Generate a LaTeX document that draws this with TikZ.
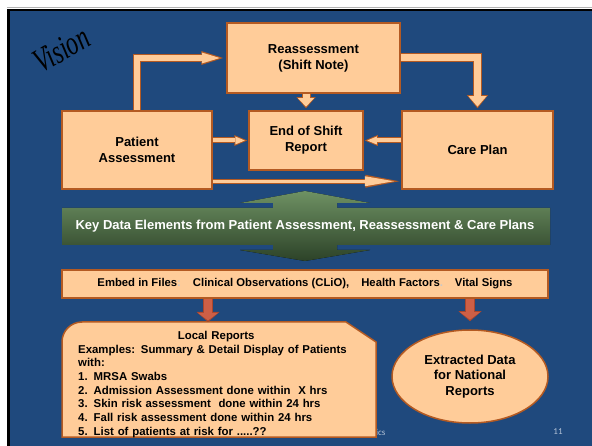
\documentclass[tikz,border=0pt]{standalone}
\usepackage{fontspec}
\setmainfont{Liberation Sans}
\newfontfamily\visionfont{Liberation Serif}
\newfontfamily\footfont{Carlito}
\usetikzlibrary{arrows.meta,shapes.geometric,calc}

\definecolor{slideblue}{HTML}{1F497D}
\definecolor{peach}{HTML}{FFCC99}
\definecolor{edge}{HTML}{B45A22}
\definecolor{redarrow}{HTML}{CD5F46}
\definecolor{rededge}{HTML}{A9462D}
\definecolor{greenlight}{HTML}{6E9163}
\definecolor{greendark}{HTML}{2C4228}
\definecolor{footgrey}{HTML}{B4C3D7}
\definecolor{faint}{HTML}{C8C8C8}

\tikzset{
  box/.style={draw=edge, fill=peach, line width=1.5pt, inner sep=0pt, align=center,
    font=\fontsize{13}{15.8}\selectfont\bfseries, text=black},
  boxline/.style={draw=edge, fill=peach, line width=1.5pt},
  listtext/.style={text width=276pt, align=left, inner sep=0pt, text=black,
    font=\fontsize{11.4}{13.7}\selectfont\bfseries},
  keytext/.style={text=white, font=\fontsize{13}{15}\selectfont\bfseries},
  foot/.style={text=footgrey, font=\footfont\fontsize{9}{10}\selectfont},
  flowout/.style n args={3}{draw=edge, line width=#1, line join=miter, shorten >=2pt,
    -{Triangle[length=#2, width=#3, line width=0pt]}},
  flowin/.style n args={3}{draw=peach, line width=#1, line join=miter, shorten >=3.6pt,
    -{Triangle[length=#2, width=#3, line width=0pt]}},
}

\begin{document}
\begin{tikzpicture}[x=1pt, y=-1pt]
  \useasboundingbox (0,0) rectangle (592,446);
  % slide background
  \fill[white] (0,0) rectangle (592,446);
  \draw[gray!60, line width=1pt] (7,8) -- (592,8);
  \fill[black] (7,9) rectangle (592,446);
  \fill[slideblue] (10,11) rectangle (592,446);

  \begin{scope}[shift={(67,59)}]
    \node[font=\visionfont\itshape\fontsize{34}{34}\selectfont, anchor=base,
      rotate=30, xscale=0.7, transform shape] (vision) at (0,0) {Vision};
  \end{scope}

  % boxes
  \node[box, minimum width=173pt, minimum height=70pt] (re) at (313.5,58) {Reassessment\\(Shift Note)};
  \node[box, minimum width=150pt, minimum height=78pt] (pa) at (137,150) {Patient\\Assessment};
  \node[box, minimum width=114pt, minimum height=59pt] (es) at (306,140.5) {End of Shift\\Report};
  \node[box, minimum width=151pt, minimum height=78pt] (cp) at (477.5,150) {Care Plan};

  % connectors between the boxes
  \draw[flowout={8pt}{22pt}{14pt}, shorten >=3pt] (pa.north) |- (re.west);
  \draw[flowin={6pt}{18pt}{11pt}, shorten >=6.5pt] (pa.north) |- (re.west);
  \draw[flowout={9pt}{13pt}{21pt}] (re.east) -| (cp.north);
  \draw[flowin={7pt}{10.4pt}{18pt}] (re.east) -| (cp.north);
  \draw[flowout={9pt}{11pt}{19pt}] (re.south -| es.north) -- (es.north);
  \draw[flowin={7pt}{8.4pt}{16pt}] (re.south -| es.north) -- (es.north);
  \draw[flowout={6pt}{13pt}{11pt}, shorten >=1pt] (pa.east |- es.west) -- (es.west);
  \draw[flowin={4pt}{9.5pt}{8pt}, shorten >=3.5pt] (pa.east |- es.west) -- (es.west);
  \draw[flowout={6pt}{13pt}{11pt}, shorten >=1pt] (cp.west |- es.east) -- (es.east);
  \draw[flowin={4pt}{9.5pt}{8pt}, shorten >=3.5pt] (cp.west |- es.east) -- (es.east);
  \coordinate (pa low) at ($(pa.south east)+(0,-8.5)$);
  \draw[flowout={5pt}{34pt}{13pt}] (pa low) -- (pa low -| cp.west);
  \draw[flowin={3pt}{29pt}{10pt}, shorten >=7.3pt] (pa low) -- (pa low -| cp.west);

  % key data band
  \fill[top color=greenlight, bottom color=greendark]
    (62,208) -- (273,208) -- (273,203) -- (240,203) -- (305,191) -- (370,203)
    -- (337,203) -- (337,208) -- (550,208) -- (550,245) -- (337,245) -- (337,250)
    -- (370,250) -- (305,261) -- (240,250) -- (273,250) -- (273,245) -- (62,245) -- cycle;
  \node[keytext] (kd) at (305,226.5) {Key Data Elements from Patient Assessment, Reassessment \& Care Plans};

  \node[box, minimum width=486pt, minimum height=28pt, font=\fontsize{11.3}{13}\selectfont\bfseries] (eb) at (305,284)
    {Embed in Files\textcolor{faint}{:}\hspace{12pt}Clinical Observations (CLiO),\hspace{12pt}Health Factors\textcolor{faint}{.}\hspace{12pt}Vital Signs};

  % reports
  \node[foot, anchor=east] (ft) at (389,432) {tics};
  \node[foot] (pg) at (558,432) {11};
  \draw[boxline] (62,342) arc[start angle=180, end angle=90, radius=20pt]
    -- (346,322) -- (376,342) -- (376,437) -- (62,437) -- cycle;
  \node[listtext, anchor=north west] (lr) at (78,331)
    {{\centering Local Reports\par}Examples: Summary \& Detail Display of Patients\\with:\\
     1.\hspace{6pt}MRSA Swabs\\
     2.\hspace{6pt}Admission Assessment done within\ \ X hrs\\
     3.\hspace{6pt}Skin risk assessment\ \ done within 24 hrs\\
     4.\hspace{6pt}Fall risk assessment done within 24 hrs\\
     5.\hspace{6pt}List of patients at risk for .....??};
  \node[box, ellipse, minimum width=156pt, minimum height=93pt] (nd) at (470,376.5) {Extracted Data\\for National\\Reports};

  \coordinate (lr top) at (208,322);
  \draw[flowout={10pt}{10pt}{23pt}, draw=rededge, shorten >=0pt] (lr top |- eb.south) -- (lr top);
  \draw[flowin={8pt}{7.5pt}{20pt}, draw=redarrow, shorten >=1.6pt] (lr top |- eb.south) -- (lr top);
  \draw[flowout={10pt}{10pt}{23pt}, draw=rededge, shorten >=8pt] (nd.north |- eb.south) -- (nd.north);
  \draw[flowin={8pt}{7.5pt}{20pt}, draw=redarrow, shorten >=9.6pt] (nd.north |- eb.south) -- (nd.north);
\end{tikzpicture}
\end{document}
